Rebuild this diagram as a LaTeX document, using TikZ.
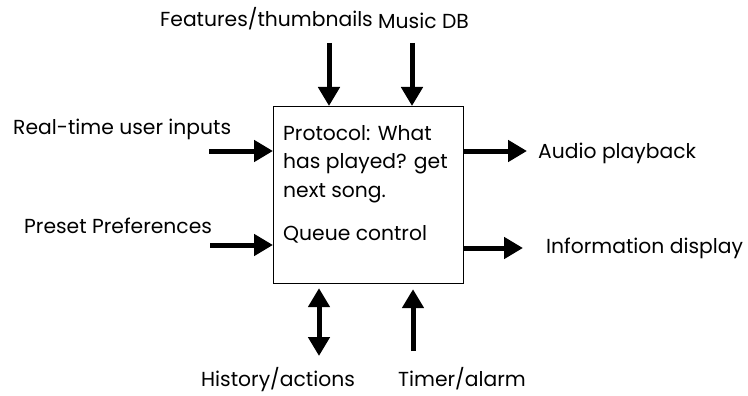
\documentclass[tikz,border=0pt]{standalone}
\usepackage{fontspec}
\setmainfont{Poppins}
\usetikzlibrary{arrows.meta,calc}
\tikzset{
  lbl/.style={anchor=base west, inner sep=0pt, font=\fontsize{20.3}{24}\selectfont},
  arr/.style={line width=5pt, -{Triangle[length=19pt,width=21pt]}},
  darr/.style={line width=5pt, {Triangle[length=19pt,width=21pt]}-{Triangle[length=19pt,width=21pt]}},
  boxst/.style={draw, line width=1.2pt, minimum width=190pt, minimum height=177pt, inner sep=0pt, anchor=north west}
}
\begin{document}
\begin{tikzpicture}[x=1pt,y=-1pt]
\useasboundingbox (0,0) rectangle (748,396);
\node[boxst] (box) at (273,106) {};
% box text
\node[lbl] (p1) at (283,140) {Protocol: What};
\node[lbl] (p2) at (283,168) {has played? get};
\node[lbl] (p3) at (283,197) {next song.};
\node[lbl] (q1) at (283,240) {Queue control};
% labels
\node[lbl] (feat) at (160,27) {Features/thumbnails};
\node[lbl] (mdb) at (378,29) {Music DB};
\node[lbl] (rt) at (13,135) {Real-time user inputs};
\node[lbl] (pp) at (24,233) {Preset Preferences};
\node[lbl] (ap) at (538,158) {Audio playback};
\node[lbl] (info) at (546,253) {Information display};
\node[lbl] (hist) at (201,386) {History/actions};
\node[lbl] (timer) at (398,386) {Timer/alarm};
% arrow ends
\coordinate (cf) at (329,43);
\coordinate (cm) at (412,43);
\coordinate (cr) at (209,151);
\coordinate (cp) at (210,245);
\coordinate (ca) at (527,151);
\coordinate (ci) at (523,248);
\coordinate (ch) at (319,356);
\coordinate (ct) at (413,351);
\draw[arr] (cf) -- (cf |- box.north);
\draw[arr] (cm) -- (cm |- box.north);
\draw[arr] (cr) -- (cr -| box.west);
\draw[arr] (cp) -- (cp -| box.west);
\draw[arr] (ca -| box.east) -- (ca);
\draw[arr] (ci -| box.east) -- (ci);
\draw[darr] ($(ch |- box.south)+(0,4)$) -- (ch);
\draw[arr] (ct) -- ($(ct |- box.south)+(0,5)$);
\end{tikzpicture}
\end{document}
